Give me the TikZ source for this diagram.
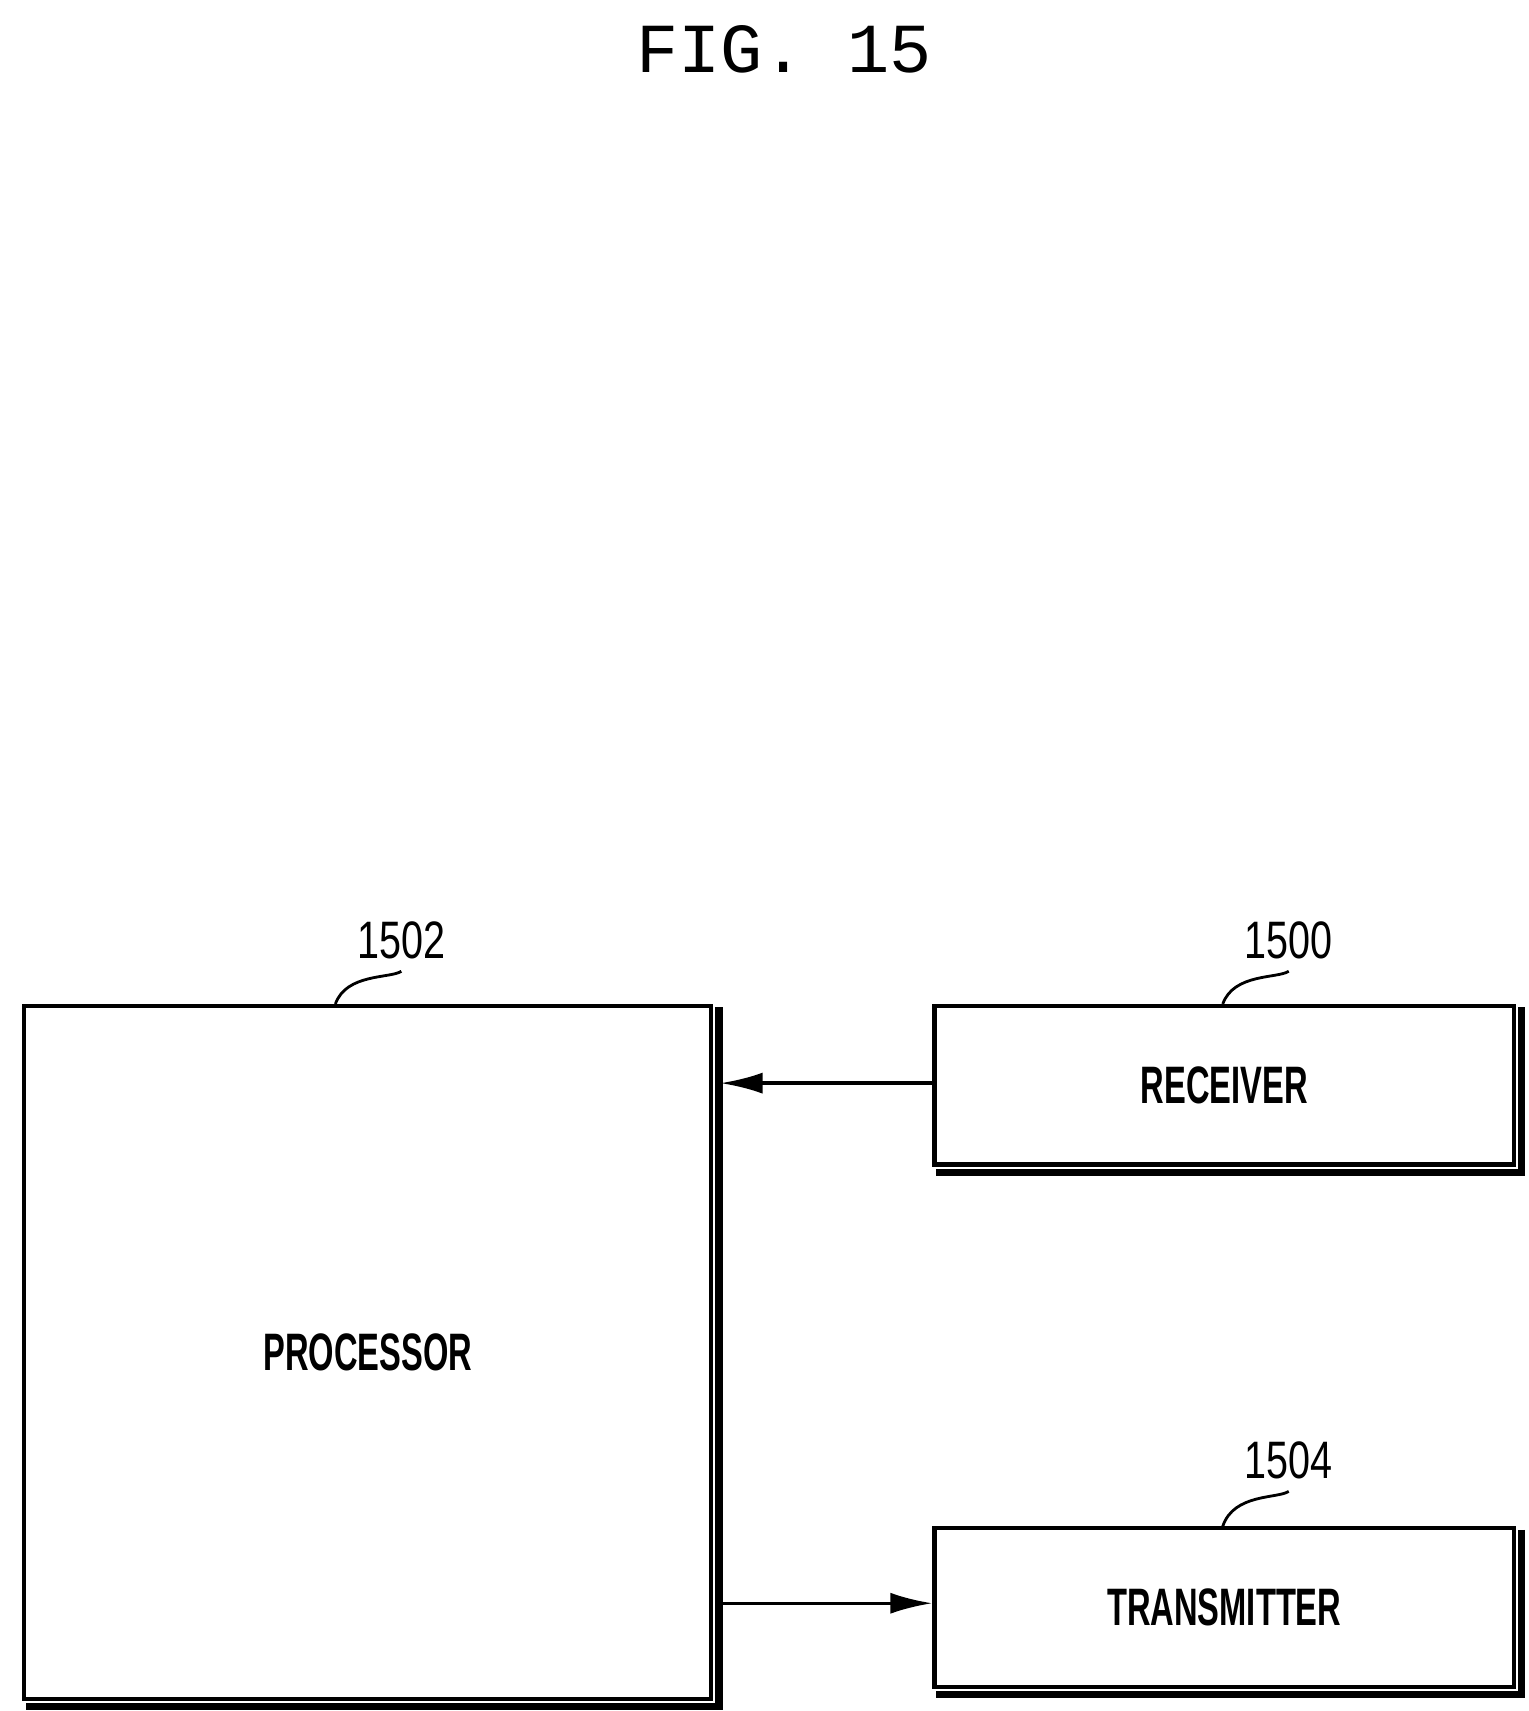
\documentclass[tikz,border=0pt]{standalone}
\usepackage{fontspec}
\setmainfont{Liberation Sans}
\newfontfamily\titlefont{Liberation Mono}
\usetikzlibrary{arrows.meta}
\tikzset{
  block/.style={draw,line width=1.2pt,minimum width=5.797cm,minimum height=1.584cm,
    inner sep=0pt},
  blocktext/.style={font=\fontsize{15}{15}\selectfont\bfseries,xscale=0.62},
  numlabel/.style={font=\fontsize{15}{15}\selectfont,xscale=0.75},
  shadowline/.style={line width=2pt},
  leader/.style={line width=0.8pt},
  link/.style={line width=1pt,-{Latex[length=12pt,width=6pt]}}
}
\begin{document}
\begin{tikzpicture}[x=0.011cm,y=-0.011cm]
\useasboundingbox (0,0) rectangle (1390,1556);
\node[font=\titlefont\fontsize{20}{20}\selectfont] (title) at (713,45) {FIG. 15};
% blocks
\node[block,minimum width=6.875cm,minimum height=6.93cm,anchor=north west] (proc) at (20,913) {};
\node[block,anchor=north west] (rx) at (848,913) {};
\node[block,anchor=north west] (tx) at (848,1388) {};
\node[blocktext] (proctext) at (proc.center) {PROCESSOR};
\node[blocktext] (rxtext) at (rx.center) {RECEIVER};
\node[blocktext] (txtext) at (tx.center) {TRANSMITTER};
% shadows
\foreach \b in {proc,rx,tx}{
  \draw[shadowline] ([xshift=1.6pt,yshift=-1pt]\b.north east) -- ([xshift=1.6pt,yshift=-1.6pt]\b.south east)
    -- ([xshift=1pt,yshift=-1.6pt]\b.south west);
}
% reference numerals
\node[numlabel] (n1502) at (365,855) {1502};
\node[numlabel] (n1500) at (1172,855) {1500};
\node[numlabel] (n1504) at (1172,1328) {1504};
\draw[leader] (n1502.south) .. controls (355,890) and (315,885) .. (305,913);
\draw[leader] (n1500.south) .. controls (1162,890) and (1122,885) .. (1112,913);
\draw[leader] (n1504.south) .. controls (1162,1363) and (1122,1358) .. (1112,1388);
% connectors
\coordinate (rxin) at (rx.west |- 0,985);
\coordinate (procin) at (proc.east |- 0,985);
\coordinate (procout) at (proc.east |- 0,1458);
\coordinate (txin) at (tx.west |- 0,1458);
\draw[link] (rxin) -- ([xshift=2pt]procin);
\draw[link] ([xshift=2pt]procout) -- (txin);
\end{tikzpicture}
\end{document}
